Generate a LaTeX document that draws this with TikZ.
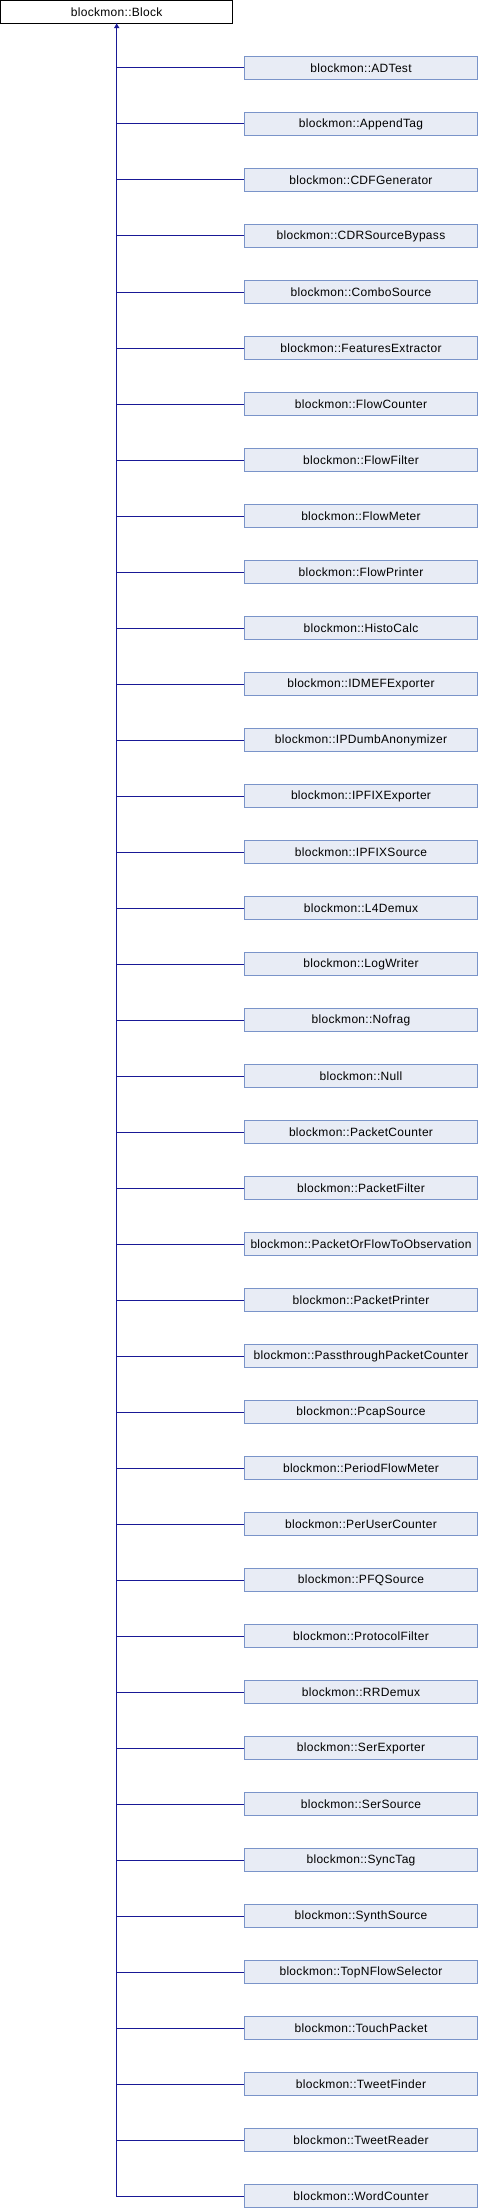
\documentclass[tikz,border=0pt]{standalone}
\usepackage{fontspec}
\setmainfont{Liberation Sans}[LetterSpace=2.5]
\usetikzlibrary{arrows.meta}
\definecolor{edgeblue}{RGB}{25,25,150}
\definecolor{boxfill}{RGB}{232,236,245}
\definecolor{boxdraw}{RGB}{122,148,201}
\begin{document}
\begin{tikzpicture}[x=0.75pt,y=-0.75pt,
  basebox/.style={draw=black, fill=white, line width=0.75pt, minimum width=174.2pt, minimum height=16.9pt, inner sep=0pt, font=\fontsize{9}{10}\selectfont},
  childbox/.style={draw=boxdraw, fill=boxfill, line width=0.75pt, minimum width=174.75pt, minimum height=16.9pt, inner sep=0pt, font=\fontsize{9}{10}\selectfont},
  edge/.style={draw=edgeblue, line width=0.75pt}]
\useasboundingbox (0,0) rectangle (478,2208);
\node[basebox] (base) at (116.7,11.75) {blockmon::Block};
\foreach \n [count=\i from 0] in {ADTest,AppendTag,CDFGenerator,CDRSourceBypass,ComboSource,FeaturesExtractor,FlowCounter,FlowFilter,FlowMeter,FlowPrinter,HistoCalc,IDMEFExporter,IPDumbAnonymizer,IPFIXExporter,IPFIXSource,L4Demux,LogWriter,Nofrag,Null,PacketCounter,PacketFilter,PacketOrFlowToObservation,PacketPrinter,PassthroughPacketCounter,PcapSource,PeriodFlowMeter,PerUserCounter,PFQSource,ProtocolFilter,RRDemux,SerExporter,SerSource,SyncTag,SynthSource,TopNFlowSelector,TouchPacket,TweetFinder,TweetReader,WordCounter}{
  \node[childbox] (c\i) at (361,68+56*\i) {blockmon::\n};
  \draw[edge] (base.south) |- (c\i.west);
}
\draw[edge, {Triangle[width=4pt,length=3.5pt]}-] (base.south) -- (c0.west -| base.south);
\end{tikzpicture}
\end{document}
